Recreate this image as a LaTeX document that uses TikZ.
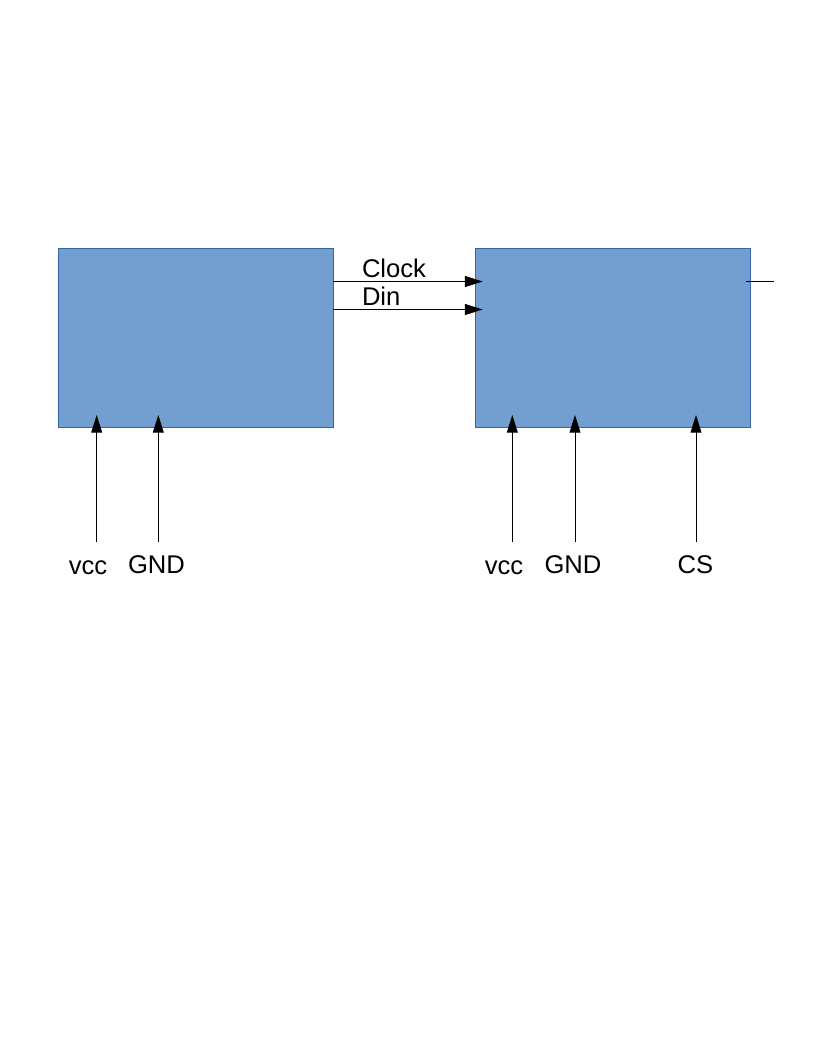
\documentclass[tikz,border=0pt]{standalone}
\usepackage{fontspec}
\setmainfont{Liberation Sans}
\usetikzlibrary{
    arrows.meta
}
\definecolor{boxfill}{HTML}{729FCF}
\definecolor{boxline}{HTML}{3465A4}
\tikzset{
  every path/.style={
    black,
    line width=0.75pt
  },
  block/.style={
    draw=boxline,
    fill=boxfill,
    line width=0.6pt,
    anchor=north west,
    inner sep=0pt,
    outer sep=0pt,
    minimum width=206.25pt,
    minimum height=134.25pt
  },
  lbl/.style={
    inner sep=0pt,
    font=\fontsize{19.2}{23}\selectfont
  },
  sig/.style={
    -{Triangle[length=13.3pt,width=8.2pt]}
  }
}
\begin{document}
\begin{tikzpicture}[x=0.75pt,y=-0.75pt]
\useasboundingbox (0,0) rectangle (816,1056);
\node[block] (mcu) at (58,248) {};
\node[block] (drv) at (475,248) {};
% serial lines
\coordinate (clk) at (482.7,281.5);
\coordinate (din) at (482.7,309.5);
\draw[sig] (mcu.east |- clk) -- (clk);
\draw[sig] (mcu.east |- din) -- (din);
\node[lbl, anchor=base west] (clklbl) at (361.5,277) {Clock};
\node[lbl, anchor=base west] (dinlbl) at (361.5,305) {Din};
% output stub
\coordinate (outA) at (746,281.3);
\coordinate (outB) at (774,281.3);
\draw (outA) -- (outB);
% supply and select pins
\foreach \pin/\px/\lx/\by/\txt in {
    1/96.7/88/574/vcc,
    2/158.3/156.5/573/GND,
    3/512.3/504/574/vcc,
    4/575/573/573/GND,
    5/696/695.5/573/CS} {
\coordinate (p\pin) at (\px,541.7);
\coordinate (t\pin) at (\px,415);
\draw[sig] (p\pin) -- (t\pin);
\node[lbl, anchor=base] (n\pin) at (\lx,\by) {\txt};
}
\end{tikzpicture}
\end{document}
